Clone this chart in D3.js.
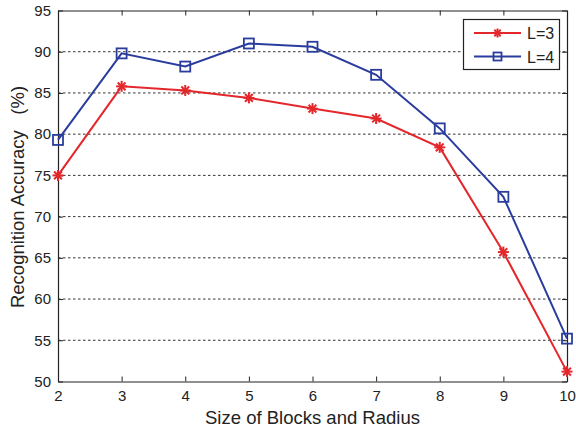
<!DOCTYPE html>
<html>
<head>
<meta charset="utf-8">
<script src="https://cdn.jsdelivr.net/npm/d3@7"></script>
<style>
  body { margin: 0; background: #fff; }
  svg text { font-family: "Liberation Sans", Arial, sans-serif; fill: #222; }
</style>
</head>
<body>
<div id="chart"></div>
<script>
const xValues = [2, 3, 4, 5, 6, 7, 8, 9, 10];
const seriesL3 = [75.0, 85.8, 85.3, 84.4, 83.1, 81.9, 78.4, 65.7, 51.2];
const seriesL4 = [79.3, 89.8, 88.2, 91.0, 90.6, 87.2, 80.7, 72.4, 55.2];
const yTicks = [50, 55, 60, 65, 70, 75, 80, 85, 90, 95];
const seriesNames = ["L=3", "L=4"];

const w = 576, h = 431;
const m = { l: 58, r: 9, t: 10.5, b: 49.5 };
const red = "#e3272b", blue = "#2a3d9e";

const svg = d3.select("#chart").append("svg").attr("width", w).attr("height", h);

const x = d3.scaleLinear().domain([2, 10]).range([m.l, w - m.r]);
const y = d3.scaleLinear().domain([50, 95]).range([h - m.b, m.t]);

// dashed grid
svg.append("g").selectAll("line")
  .data(yTicks.filter(d => d > 50 && d < 95))
  .join("line")
  .attr("x1", m.l).attr("x2", w - m.r)
  .attr("y1", d => y(d)).attr("y2", d => y(d))
  .attr("stroke", "#333").attr("stroke-width", 1)
  .attr("stroke-dasharray", "2.5,2.5");

// axes with inward ticks
const axB = svg.append("g").attr("transform", `translate(0,${h - m.b})`)
  .call(d3.axisBottom(x).tickValues(xValues).tickSizeInner(-5).tickSizeOuter(0).tickPadding(9));
const axT = svg.append("g").attr("transform", `translate(0,${m.t})`)
  .call(d3.axisTop(x).tickValues(xValues).tickSizeInner(-5).tickSizeOuter(0).tickFormat(""));
const axL = svg.append("g").attr("transform", `translate(${m.l},0)`)
  .call(d3.axisLeft(y).tickValues(yTicks).tickSizeInner(-5).tickSizeOuter(0).tickPadding(7));
const axR = svg.append("g").attr("transform", `translate(${w - m.r},0)`)
  .call(d3.axisRight(y).tickValues(yTicks).tickSizeInner(-5).tickSizeOuter(0).tickFormat(""));

[axB, axT, axL, axR].forEach(a => {
  a.select(".domain").attr("stroke", "#222").attr("stroke-width", 1.2);
  a.selectAll(".tick line").attr("stroke", "#222");
  a.selectAll("text").attr("font-size", 15).attr("fill", "#222");
});

// axis titles
svg.append("text")
  .text("Size of Blocks and Radius")
  .attr("x", (m.l + w - m.r) / 2)
  .attr("y", 424)
  .attr("text-anchor", "middle")
  .attr("font-size", 18.5);

svg.append("text")
  .text("Recognition Accuracy\u00a0\u00a0\u00a0(%)")
  .attr("transform", `translate(24,197) rotate(-90)`)
  .attr("text-anchor", "middle")
  .attr("font-size", 18.5);

const line = d3.line().x((d, i) => x(xValues[i])).y(d => y(d));

function star(g, cx, cy, r, col) {
  for (let k = 0; k < 4; k++) {
    const a = k * Math.PI / 4;
    g.append("line")
      .attr("x1", cx - r * Math.cos(a)).attr("y1", cy - r * Math.sin(a))
      .attr("x2", cx + r * Math.cos(a)).attr("y2", cy + r * Math.sin(a))
      .attr("stroke", col).attr("stroke-width", 2);
  }
}
function square(g, cx, cy, s, col) {
  g.append("rect")
    .attr("x", cx - s / 2).attr("y", cy - s / 2)
    .attr("width", s).attr("height", s)
    .attr("fill", "none").attr("stroke", col).attr("stroke-width", 1.8);
}

const series = [
  { name: seriesNames[0], vals: seriesL3, col: red, mark: (g, cx, cy) => star(g, cx, cy, 5.5, red) },
  { name: seriesNames[1], vals: seriesL4, col: blue, mark: (g, cx, cy) => square(g, cx, cy, 10, blue) }
];

series.forEach(s => {
  svg.append("path")
    .attr("d", line(s.vals))
    .attr("fill", "none").attr("stroke", s.col).attr("stroke-width", 2);
  const g = svg.append("g");
  s.vals.forEach((v, i) => s.mark(g, x(xValues[i]), y(v)));
});

// legend
const lg = svg.append("g");
lg.append("rect")
  .attr("x", 463.5).attr("y", 19.5).attr("width", 96).attr("height", 50)
  .attr("fill", "#fff").attr("stroke", "#222").attr("stroke-width", 1.2);
series.forEach((s, i) => {
  const ly = 33 + i * 23.5;
  lg.append("line").attr("x1", 474).attr("x2", 521).attr("y1", ly).attr("y2", ly)
    .attr("stroke", s.col).attr("stroke-width", 2);
  if (i === 0) star(lg, 497.5, ly, 4.5, s.col);
  else square(lg, 497.5, ly, 8, s.col);
  lg.append("text").text(s.name)
    .attr("x", 527).attr("y", ly + 6)
    .attr("font-size", 16);
});
</script>
</body>
</html>
